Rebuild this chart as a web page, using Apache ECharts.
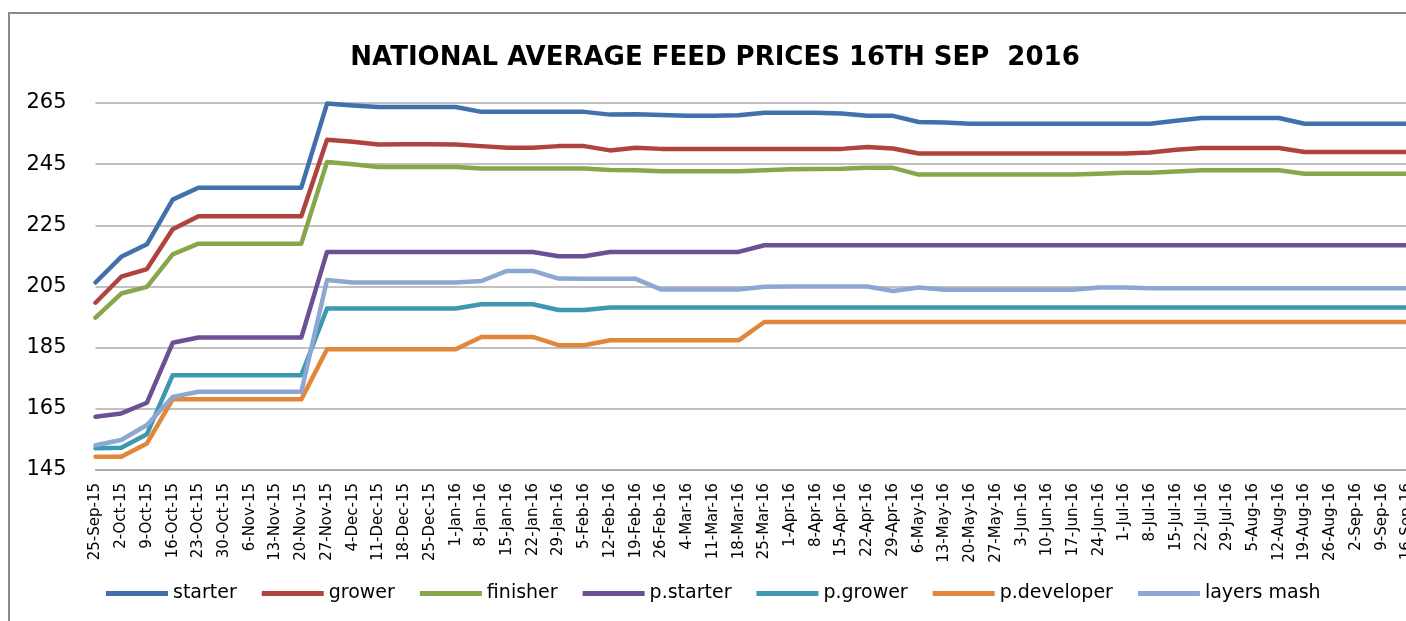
<!DOCTYPE html>
<html>
<head>
<meta charset="utf-8">
<script src="https://cdn.jsdelivr.net/npm/echarts@6/dist/echarts.min.js"></script>
<style>
  html, body { margin: 0; padding: 0; background: #fff; }
  #chart { width: 1406px; height: 621px; }
</style>
</head>
<body>
<div id="chart"></div>
<script>
// weekly dates
const weeks = [
  '25-Sep-15', '2-Oct-15', '9-Oct-15', '16-Oct-15', '23-Oct-15', '30-Oct-15', '6-Nov-15', '13-Nov-15',
  '20-Nov-15', '27-Nov-15', '4-Dec-15', '11-Dec-15', '18-Dec-15', '25-Dec-15', '1-Jan-16', '8-Jan-16',
  '15-Jan-16', '22-Jan-16', '29-Jan-16', '5-Feb-16', '12-Feb-16', '19-Feb-16', '26-Feb-16', '4-Mar-16',
  '11-Mar-16', '18-Mar-16', '25-Mar-16', '1-Apr-16', '8-Apr-16', '15-Apr-16', '22-Apr-16', '29-Apr-16',
  '6-May-16', '13-May-16', '20-May-16', '27-May-16', '3-Jun-16', '10-Jun-16', '17-Jun-16', '24-Jun-16',
  '1-Jul-16', '8-Jul-16', '15-Jul-16', '22-Jul-16', '29-Jul-16', '5-Aug-16', '12-Aug-16', '19-Aug-16',
  '26-Aug-16', '2-Sep-16', '9-Sep-16', '16-Sep-16'
]

const starter = [
  206.3, 214.7, 218.8, 233.4, 237.3, 237.3, 237.3, 237.3, 237.3, 264.8, 264.2, 263.7, 263.7, 263.7,
  263.7, 262.1, 262.1, 262.1, 262.1, 262.1, 261.2, 261.3, 261.1, 260.8, 260.8, 261.0, 261.8, 261.8,
  261.8, 261.6, 260.8, 260.8, 258.8, 258.6, 258.2, 258.2, 258.2, 258.2, 258.2, 258.2, 258.2, 258.2,
  259.2, 260.1, 260.1, 260.1, 260.1, 258.2, 258.2, 258.2, 258.2, 258.2
]
const grower = [
  199.7, 208.2, 210.7, 223.7, 228.0, 228.0, 228.0, 228.0, 228.0, 253.0, 252.3, 251.4, 251.5, 251.5,
  251.4, 250.9, 250.4, 250.4, 250.9, 250.9, 249.5, 250.4, 250.0, 250.0, 250.0, 250.0, 250.0, 250.0,
  250.0, 250.0, 250.6, 250.1, 248.5, 248.5, 248.5, 248.5, 248.5, 248.5, 248.5, 248.5, 248.5, 248.8,
  249.7, 250.3, 250.3, 250.3, 250.3, 249.0, 249.0, 249.0, 249.0, 249.0
]
const finisher = [
  194.8, 202.7, 204.9, 215.5, 219.0, 219.0, 219.0, 219.0, 219.0, 245.7, 245.0, 244.1, 244.1, 244.1,
  244.1, 243.6, 243.6, 243.6, 243.6, 243.6, 243.1, 243.0, 242.7, 242.7, 242.7, 242.7, 243.0, 243.3,
  243.4, 243.5, 243.8, 243.8, 241.6, 241.6, 241.6, 241.6, 241.6, 241.6, 241.6, 241.9, 242.2, 242.2,
  242.6, 243.0, 243.0, 243.0, 243.0, 241.9, 241.9, 241.9, 241.9, 241.9
]
const pStarter = [
  162.4, 163.5, 167.0, 186.6, 188.3, 188.3, 188.3, 188.3, 188.3, 216.3, 216.3, 216.3, 216.3, 216.3,
  216.3, 216.3, 216.3, 216.3, 214.9, 214.9, 216.3, 216.3, 216.3, 216.3, 216.3, 216.3, 218.5, 218.5,
  218.5, 218.5, 218.5, 218.5, 218.5, 218.5, 218.5, 218.5, 218.5, 218.5, 218.5, 218.5, 218.5, 218.5,
  218.5, 218.5, 218.5, 218.5, 218.5, 218.5, 218.5, 218.5, 218.5, 218.5
]
const pGrower = [
  152.1, 152.3, 156.7, 176.0, 176.0, 176.0, 176.0, 176.0, 176.0, 197.8, 197.8, 197.8, 197.8, 197.8,
  197.8, 199.2, 199.2, 199.2, 197.3, 197.3, 198.1, 198.1, 198.1, 198.1, 198.1, 198.1, 198.1, 198.1,
  198.1, 198.1, 198.1, 198.1, 198.1, 198.1, 198.1, 198.1, 198.1, 198.1, 198.1, 198.1, 198.1, 198.1,
  198.1, 198.1, 198.1, 198.1, 198.1, 198.1, 198.1, 198.1, 198.1, 198.1
]
const pDeveloper = [
  149.3, 149.3, 153.7, 168.1, 168.1, 168.1, 168.1, 168.1, 168.1, 184.5, 184.5, 184.5, 184.5, 184.5,
  184.5, 188.5, 188.5, 188.5, 185.8, 185.8, 187.4, 187.4, 187.4, 187.4, 187.4, 187.4, 193.4, 193.4,
  193.4, 193.4, 193.4, 193.4, 193.4, 193.4, 193.4, 193.4, 193.4, 193.4, 193.4, 193.4, 193.4, 193.4,
  193.4, 193.4, 193.4, 193.4, 193.4, 193.4, 193.4, 193.4, 193.4, 193.4
]
const layersMash = [
  153.1, 154.8, 159.7, 168.9, 170.6, 170.6, 170.6, 170.6, 170.6, 207.1, 206.3, 206.3, 206.3, 206.3,
  206.3, 206.8, 210.1, 210.1, 207.6, 207.5, 207.5, 207.5, 204.0, 204.0, 204.0, 204.0, 204.9, 205.0,
  205.0, 205.0, 205.0, 203.5, 204.7, 203.9, 203.9, 203.9, 203.9, 203.9, 203.9, 204.7, 204.7, 204.4,
  204.4, 204.4, 204.4, 204.4, 204.4, 204.4, 204.4, 204.4, 204.4, 204.4
]

const seriesNames = ['starter', 'grower', 'finisher', 'p.starter', 'p.grower', 'p.developer', 'layers mash']
const seriesData = [starter, grower, finisher, pStarter, pGrower, pDeveloper, layersMash]
const seriesColors = ['#4270ab', '#af433f', '#87a84a', '#6b5193', '#3e98af', '#e0873b', '#8ca8d2']

const font = '"DejaVu Sans", sans-serif'

const chart = echarts.init(document.getElementById('chart'), null, { renderer: 'canvas' })

const option = {
  animation: false,
  backgroundColor: '#fff',
  graphic: [{
    // outer chart frame, runs off the right/bottom edge
    type: 'rect',
    shape: { x: 9, y: 13, width: 1500, height: 700 },
    style: { fill: 'none', stroke: '#8a8a8a', lineWidth: 2 },
    silent: true
  }],
  title: {
    text: 'NATIONAL AVERAGE FEED PRICES 16TH SEP  2016',
    left: 710,
    textAlign: 'center',
    top: 40,
    textStyle: { fontFamily: font, fontWeight: 'bold', fontSize: 26, color: '#000' }
  },
  legend: {
    data: seriesNames,
    left: 101,
    top: 579,
    icon: 'rect',
    itemWidth: 62,
    itemHeight: 5,
    itemGap: 25,
    textStyle: { fontFamily: font, fontSize: 19, color: '#000' }
  },
  grid: {
    left: 95.5,
    top: 103,
    width: 1312,
    height: 367,
    containLabel: false,
    outerBoundsMode: 'none'
  },
  xAxis: {
    type: 'category',
    data: weeks,
    boundaryGap: false,
    axisLine: { show: true, lineStyle: { color: '#a6a6a6', width: 1.5 } },
    axisTick: { show: false },
    axisLabel: {
      interval: 0,
      rotate: 90,
      margin: 13,
      fontFamily: font,
      fontSize: 15,
      color: '#000'
    }
  },
  yAxis: {
    type: 'value',
    min: 145,
    max: 265,
    interval: 20,
    axisLine: { show: false },
    axisTick: { show: false },
    splitLine: { lineStyle: { color: '#acacac', width: 1.5 } },
    axisLabel: { margin: 29, fontFamily: font, fontSize: 21, color: '#000' }
  },
  series: seriesNames.map((name, i) => ({
    name: name,
    type: 'line',
    data: seriesData[i],
    symbol: 'none',
    smooth: false,
    color: seriesColors[i],
    lineStyle: { width: 4.5, color: seriesColors[i], cap: 'round', join: 'round' }
  }))
}

chart.setOption(option)
</script>
</body>
</html>
